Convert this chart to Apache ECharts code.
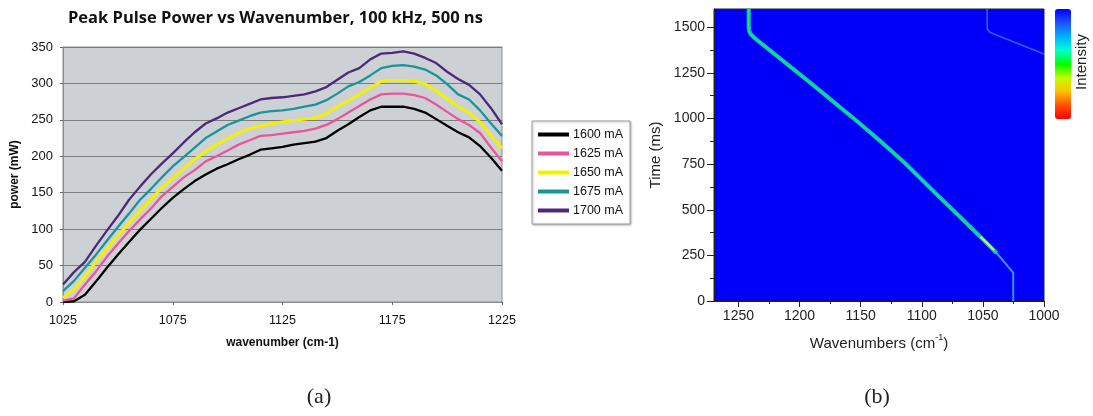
<!DOCTYPE html>
<html>
<head>
<meta charset="utf-8">
<script src="https://cdn.jsdelivr.net/npm/echarts@6/dist/echarts.min.js"></script>
<style>html,body{margin:0;padding:0;background:#fff;}#c{width:1093px;height:416px;}</style>
</head>
<body>
<div id="c"></div>
<script>
// ---------- Panel (a): peak pulse power vs wavenumber ----------
const wavenumbers = [1025,1030,1035,1040,1045,1050,1055,1060,1065,1070,1075,1080,1085,1090,1095,1100,1105,1110,1115,1120,1125,1130,1135,1140,1145,1150,1155,1160,1165,1170,1175,1180,1185,1190,1195,1200,1205,1210,1215,1220,1225];
const p1600 = [0,1,10,28,47,65,82,99,114,129,143,155,166,175,183,189,196,202,209,211,213,216,218,220,225,235,244,254,263,268,268,268,265,260,251,242,233,226,214,198,180];
const p1625 = [2,5,24,42,62,80,97,113,128,145,158,171,181,193,200,208,216,222,228,229,231,233,235,238,243,251,260,269,278,285,286,286,284,280,271,261,251,243,232,212,193];
const p1650 = [6,17,35,55,73,91,108,125,140,157,170,183,196,207,216,224,232,238,242,245,247,249,251,253,259,268,276,285,294,303,304,304,303,299,290,279,268,260,247,228,211];
const p1675 = [15,29,47,65,84,103,121,140,155,171,186,199,212,225,234,243,249,255,260,262,263,265,268,271,277,286,296,302,311,321,324,325,323,319,311,299,285,278,263,245,228];
const p1700 = [24,41,55,77,98,118,140,158,175,190,204,219,233,245,252,260,266,272,278,280,281,283,285,289,295,305,315,321,333,341,342,344,341,335,328,316,306,298,285,266,244];
const seriesNames = ['1600 mA','1625 mA','1650 mA','1675 mA','1700 mA'];
const leftXTicks = [1025,1075,1125,1175,1225];

// ---------- Panel (b): time vs wavenumber map ----------
const mainWn = [1241.6,1241.6,1241.1,1240.0,1238.0,1234.2,1191.8,1156.3,1134.4,1124.8,1113.9,1087.9,1074.3,1060.7,1049.0,1038.8];
const mainT  = [1600,1500,1478,1463,1449,1427,1199,1004,879,822,756,585,497,408,332,263];
const tailWn = [1038.8,1025.2,1025.2];
const tailT  = [263,155,0];
const hotWn  = [1052.0,1046.5,1041.0];
const hotT   = [352,316,279];
const faintWn = [1046.5,1046.5,1044.5,1041.6,1000];
const faintT  = [1600,1492,1474,1464,1354];
const rightXTicks = [1000,1050,1100,1150,1200,1250];
const rightXMinor = [1025,1075,1125,1175,1225];
const rightYTicks = [0,250,500,750,1000,1250,1500];
const rightYMinor = [125,375,625,875,1125,1375];

const zip = (a, b) => a.map((v, i) => [v, b[i]]);
const plain = v => String(v);
const leftColors = ['#000000','#e8559a','#f2f200','#17959b','#4b2a7a'];
const leftData = [p1600,p1625,p1650,p1675,p1700];

const chart = echarts.init(document.getElementById('c'));
const sans = 'Liberation Sans, Arial, sans-serif';

const series = leftData.map((d, i) => ({
  name: seriesNames[i], type: 'line', xAxisIndex: 0, yAxisIndex: 0,
  data: zip(wavenumbers, d), showSymbol: false, symbol: 'none',
  lineStyle: { color: leftColors[i], width: i === 2 ? 3 : 2.3 },
  itemStyle: { color: leftColors[i] }, z: 3
}));

series.push(
  { name: 'faint', type: 'line', xAxisIndex: 1, yAxisIndex: 1, data: zip(faintWn, faintT), showSymbol: false, symbol: 'none', lineStyle: { color: '#2a62ff', width: 1.6 }, z: 3 },
  { name: 'mainOuter', type: 'line', xAxisIndex: 1, yAxisIndex: 1, data: zip(mainWn, mainT), showSymbol: false, symbol: 'none', lineStyle: { color: '#10a8ff', width: 4.2 }, z: 3 },
  { name: 'mainInner', type: 'line', xAxisIndex: 1, yAxisIndex: 1, data: zip(mainWn, mainT), showSymbol: false, symbol: 'none', lineStyle: { color: '#10f040', width: 1.8 }, z: 4 },
  { name: 'hot', type: 'line', xAxisIndex: 1, yAxisIndex: 1, data: zip(hotWn, hotT), showSymbol: false, symbol: 'none', lineStyle: { color: '#f0f000', width: 2 }, z: 5 },
  { name: 'tail', type: 'line', xAxisIndex: 1, yAxisIndex: 1, data: zip(tailWn, tailT), showSymbol: false, symbol: 'none', lineStyle: { color: '#3a94ff', width: 2 }, z: 4 },
  { name: 'intensityScale', type: 'scatter', xAxisIndex: 1, yAxisIndex: 1, data: [] }
);

chart.setOption({
  animation: false,
  title: {
    text: 'Peak Pulse Power vs Wavenumber, 100 kHz, 500 ns',
    left: 68, top: 10, padding: 0,
    textStyle: { fontFamily: 'Open Sans, sans-serif', fontWeight: 'bold', fontSize: 16.5, color: '#111' }
  },
  legend: {
    data: seriesNames, orient: 'vertical', left: 532, top: 121,
    padding: [7, 7, 7, 6], itemGap: 6, itemWidth: 31, itemHeight: 4, icon: 'rect',
    backgroundColor: '#fff', borderColor: '#9a9a9a', borderWidth: 1,
    shadowColor: 'rgba(0,0,0,0.25)', shadowBlur: 2, shadowOffsetX: 1, shadowOffsetY: 1,
    textStyle: { fontFamily: sans, fontSize: 12.5, color: '#111', padding: [0, 0, 0, -1] }
  },
  visualMap: [{
    type: 'continuous', min: 0, max: 1, seriesIndex: [10], orient: 'vertical',
    left: 1055, top: 9, itemWidth: 16, itemHeight: 110, padding: 0, calculable: false,
    inRange: { color: ['#ff0000','#ff5000','#ffc000','#c0ff00','#00ff00','#00ffd0','#00b0ff','#2050ff','#0000ff'] }
  }],
  grid: [
    { left: 63, top: 47, width: 439, height: 255, show: true, backgroundColor: '#cdd1d5', borderColor: '#8c8c8c', borderWidth: 1 },
    { left: 714, top: 9, width: 330, height: 292, show: true, backgroundColor: '#0000f8', borderColor: '#222', borderWidth: 1 }
  ],
  xAxis: [
    { type: 'value', gridIndex: 0, min: 1025, max: 1225,
      name: 'wavenumber (cm-1)', nameLocation: 'middle', nameGap: 35,
      nameTextStyle: { fontFamily: sans, fontWeight: 'bold', fontSize: 12, color: '#111' },
      axisLine: { lineStyle: { color: '#8c8c8c' } },
      axisTick: { customValues: leftXTicks, length: 3, lineStyle: { color: '#666' } },
      axisLabel: { customValues: leftXTicks, formatter: plain, margin: 12, fontFamily: sans, fontSize: 12.5, color: '#111' },
      splitLine: { show: false } },
    { type: 'value', gridIndex: 1, min: 1000, max: 1270, inverse: true, position: 'bottom',
      name: '{n|Wavenumbers (cm}{s|-1}{n|)}', nameLocation: 'middle', nameGap: 32,
      nameTextStyle: { rich: {
        n: { fontFamily: sans, fontSize: 15, color: '#222', lineHeight: 18, verticalAlign: 'bottom' },
        s: { fontFamily: sans, fontSize: 9, color: '#222', lineHeight: 18, verticalAlign: 'top' } } },
      axisLine: { lineStyle: { color: '#222' } },
      axisTick: { customValues: rightXTicks, length: 6, lineStyle: { color: '#222' } },
      axisLabel: { customValues: rightXTicks, formatter: plain, margin: 8, fontFamily: sans, fontSize: 14, color: '#222' },
      splitLine: { show: false } },
    { type: 'value', gridIndex: 1, min: 1000, max: 1270, inverse: true, position: 'bottom',
      axisLine: { show: false },
      axisTick: { customValues: rightXMinor, length: 3, lineStyle: { color: '#222' } },
      axisLabel: { show: false }, splitLine: { show: false } }
  ],
  yAxis: [
    { type: 'value', gridIndex: 0, min: 0, max: 350, interval: 50,
      name: 'power (mW)', nameLocation: 'middle', nameGap: 42,
      nameTextStyle: { fontFamily: sans, fontWeight: 'bold', fontSize: 12, color: '#111' },
      axisLine: { show: true, lineStyle: { color: '#8c8c8c' } },
      axisTick: { show: true, length: 3, lineStyle: { color: '#666' } },
      axisLabel: { formatter: plain, margin: 10, fontFamily: sans, fontSize: 13, color: '#111' },
      splitLine: { show: true, lineStyle: { color: '#7d7d7d', width: 1 } } },
    { type: 'value', gridIndex: 1, min: 0, max: 1600, position: 'left',
      name: 'Time (ms)', nameLocation: 'middle', nameGap: 51,
      nameTextStyle: { fontFamily: sans, fontSize: 15, color: '#222' },
      axisLine: { show: true, lineStyle: { color: '#222' } },
      axisTick: { show: true, customValues: rightYTicks, length: 7, lineStyle: { color: '#222' } },
      axisLabel: { customValues: rightYTicks, formatter: plain, margin: 9, fontFamily: sans, fontSize: 14, color: '#222' },
      splitLine: { show: false } },
    { type: 'value', gridIndex: 1, min: 0, max: 1600, position: 'left',
      axisLine: { show: false },
      axisTick: { show: true, customValues: rightYMinor, length: 4, lineStyle: { color: '#222' } },
      axisLabel: { show: false }, splitLine: { show: false } }
  ],
  graphic: [
    { type: 'text', x: 1082, y: 62, rotation: Math.PI / 2,
      style: { text: 'Intensity', fontFamily: sans, fontSize: 15, fill: '#222', align: 'center', verticalAlign: 'middle' } },
    { type: 'text', x: 319, y: 397,
      style: { text: '(a)', fontFamily: 'Liberation Serif, DejaVu Serif, serif', fontSize: 22, fill: '#222', align: 'center', verticalAlign: 'middle' } },
    { type: 'text', x: 877, y: 397,
      style: { text: '(b)', fontFamily: 'Liberation Serif, DejaVu Serif, serif', fontSize: 22, fill: '#222', align: 'center', verticalAlign: 'middle' } }
  ],
  series: series
});
</script>
</body>
</html>
